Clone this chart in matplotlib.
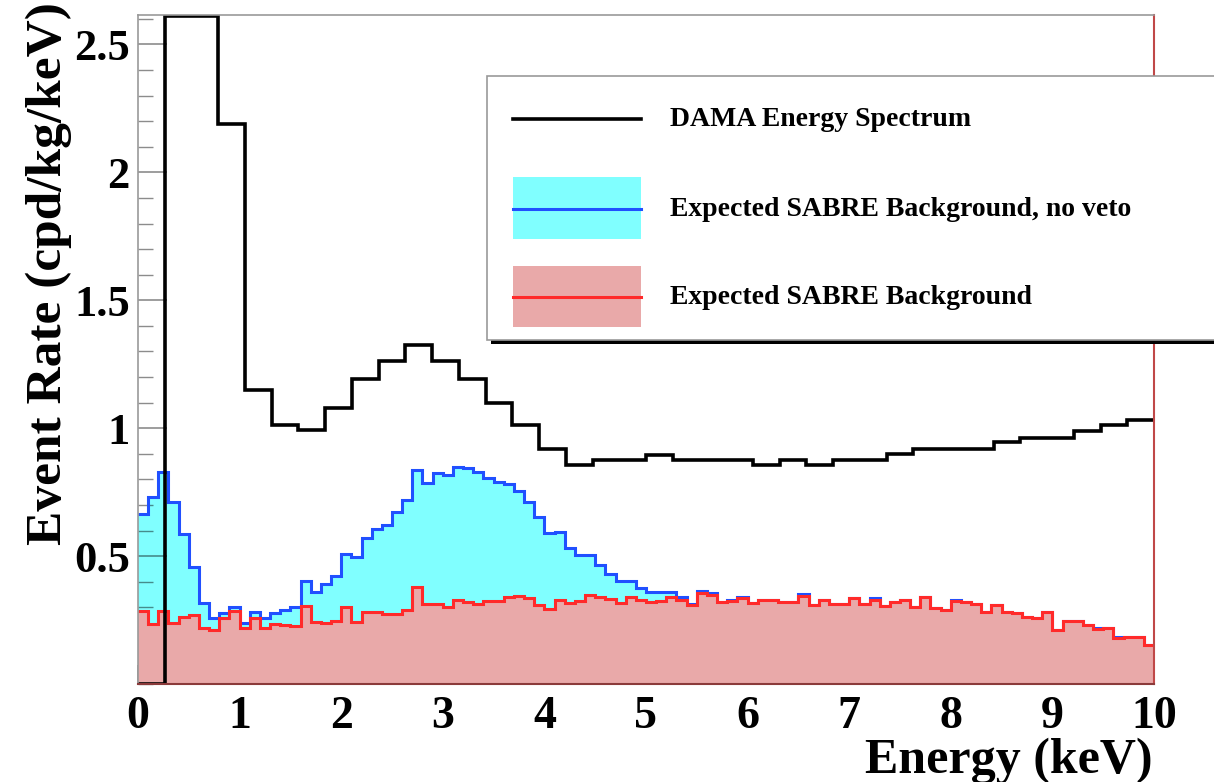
import matplotlib.pyplot as plt
import numpy as np
from matplotlib.lines import Line2D
from matplotlib.patches import Rectangle
from matplotlib.ticker import MultipleLocator

W, H = 1214, 782

# DAMA spectrum: 38 bins over 0-10 keV (bins 1-2 sit at the top of the frame)
dama_rate = [0, 2.61, 2.61, 2.19, 1.148, 1.012, 0.992, 1.079, 1.194, 1.262,
             1.327, 1.262, 1.191, 1.097, 1.013, 0.920, 0.857, 0.875, 0.875, 0.895,
             0.875, 0.875, 0.875, 0.855, 0.875, 0.855, 0.875, 0.875, 0.898, 0.920,
             0.920, 0.920, 0.944, 0.963, 0.963, 0.988, 1.012, 1.031]

# SABRE backgrounds: 100 bins of 0.1 keV
no_veto_rate = [0.664, 0.732, 0.829, 0.712, 0.586, 0.458, 0.318, 0.257, 0.279, 0.300,
                0.240, 0.283, 0.257, 0.279, 0.289, 0.302, 0.402, 0.358, 0.389, 0.423,
                0.507, 0.497, 0.569, 0.604, 0.621, 0.673, 0.719, 0.838, 0.784, 0.826,
                0.816, 0.849, 0.845, 0.827, 0.806, 0.790, 0.781, 0.754, 0.712, 0.651,
                0.591, 0.595, 0.532, 0.504, 0.504, 0.465, 0.430, 0.403, 0.403, 0.374,
                0.361, 0.361, 0.361, 0.341, 0.312, 0.362, 0.355, 0.322, 0.328, 0.341,
                0.315, 0.330, 0.330, 0.320, 0.320, 0.352, 0.310, 0.329, 0.312, 0.312,
                0.338, 0.313, 0.335, 0.305, 0.320, 0.329, 0.302, 0.341, 0.297, 0.289,
                0.328, 0.319, 0.312, 0.281, 0.307, 0.283, 0.276, 0.262, 0.259, 0.281,
                0.210, 0.247, 0.246, 0.229, 0.220, 0.218, 0.185, 0.183, 0.182, 0.152]

veto_rate = [0.286, 0.233, 0.286, 0.240, 0.263, 0.270, 0.217, 0.211, 0.259, 0.285,
             0.217, 0.259, 0.217, 0.234, 0.230, 0.227, 0.306, 0.243, 0.240, 0.247,
             0.300, 0.243, 0.283, 0.283, 0.273, 0.273, 0.289, 0.378, 0.311, 0.311,
             0.302, 0.328, 0.322, 0.313, 0.326, 0.326, 0.341, 0.344, 0.337, 0.308,
             0.292, 0.330, 0.315, 0.325, 0.349, 0.339, 0.331, 0.316, 0.339, 0.328,
             0.320, 0.325, 0.340, 0.328, 0.309, 0.356, 0.346, 0.320, 0.325, 0.338,
             0.315, 0.330, 0.330, 0.320, 0.320, 0.345, 0.310, 0.329, 0.312, 0.312,
             0.338, 0.313, 0.329, 0.305, 0.320, 0.329, 0.302, 0.341, 0.297, 0.289,
             0.323, 0.319, 0.312, 0.281, 0.307, 0.283, 0.276, 0.262, 0.259, 0.281,
             0.210, 0.247, 0.246, 0.229, 0.214, 0.218, 0.178, 0.183, 0.182, 0.152]

x_ticks = [0, 1, 2, 3, 4, 5, 6, 7, 8, 9, 10]
y_ticks = [0.5, 1, 1.5, 2, 2.5]
y_tick_labels = ["0.5", "1", "1.5", "2", "2.5"]
legend_labels = ["DAMA Energy Spectrum",
                 "Expected SABRE Background, no veto",
                 "Expected SABRE Background"]

CYAN = "#80ffff"
BLUE = "#2050ff"
PINK = "#e9a9a9"
RED = "#ff2a2a"
FONT = "Liberation Serif"

plt.rcParams["font.family"] = FONT
plt.rcParams["font.weight"] = "bold"


def fx(px):
    return px / W


def fy(py):
    return 1 - py / H


fig = plt.figure(figsize=(W / 100, H / 100), dpi=100)
ax = fig.add_axes([fx(138), fy(684), fx(1154) - fx(138), fy(15) - fy(684)])

edges_dama = np.linspace(0, 10, len(dama_rate) + 1)
edges_bg = np.linspace(0, 10, len(veto_rate) + 1)

# no veto
ax.stairs(no_veto_rate, edges_bg, baseline=0, fill=True, color=CYAN, lw=0, zorder=1)
ax.stairs(no_veto_rate, edges_bg, baseline=None, color=BLUE, lw=2.2, zorder=2)
# with veto
ax.stairs(veto_rate, edges_bg, baseline=0, fill=True, color=PINK, lw=0, zorder=3)
ax.stairs(veto_rate, edges_bg, baseline=None, color=RED, lw=2.2, zorder=4)
# DAMA
ax.stairs(dama_rate, edges_dama, baseline=None, color="black", lw=2.6, zorder=5)

ax.set_xlim(0, 10)
ax.set_ylim(0, 2.615)

# ROOT-like axes
ax.set_xticks(x_ticks)
ax.set_xticklabels([str(t) for t in x_ticks])
ax.xaxis.set_minor_locator(MultipleLocator(0.2))
ax.set_yticks(y_ticks)
ax.set_yticklabels(y_tick_labels)
ax.yaxis.set_minor_locator(MultipleLocator(0.1))
tick_col = (0, 0, 0, 0.45)
ax.tick_params(axis="x", which="major", direction="in", length=14, width=1.2,
               color=tick_col, labelsize=33, pad=9, top=False)
ax.tick_params(axis="x", which="minor", direction="in", length=6, width=1.0,
               color=tick_col, top=False)
ax.tick_params(axis="y", which="major", direction="in", length=21, width=1.2,
               color=tick_col, labelsize=32, pad=6, right=False)
ax.tick_params(axis="y", which="minor", direction="in", length=11, width=1.0,
               color=tick_col, right=False)
for lab in ax.get_xticklabels() + ax.get_yticklabels():
    lab.set_fontweight("bold")
    lab.set_zorder(10)
for side in ["top", "left"]:
    ax.spines[side].set_color("#999999")
    ax.spines[side].set_linewidth(1.2)
ax.spines["bottom"].set_color("#8b3a3a")
ax.spines["bottom"].set_linewidth(1.5)
ax.spines["right"].set_color("#c04848")
ax.spines["right"].set_linewidth(1.5)
for sp in ax.spines.values():
    sp.set_zorder(6)

fig.text(fx(1153), fy(773), "Energy (keV)", ha="right", va="baseline",
         fontsize=36, fontweight="bold")
fig.text(fx(49), fy(2), "Event Rate (cpd/kg/keV)", ha="center", va="top",
         rotation=90, fontsize=37, fontweight="bold")

# legend box (runs off the right edge like the original)
tf = fig.transFigure
fig.add_artist(Rectangle((fx(491), fy(344)), fx(1240) - fx(491), fy(80) - fy(344),
                         transform=tf, facecolor="black", edgecolor="none", zorder=20))
fig.add_artist(Rectangle((fx(487), fy(340)), fx(1240) - fx(487), fy(76) - fy(340),
                         transform=tf, facecolor="white", edgecolor="#999999",
                         lw=1.2, zorder=21))
fig.add_artist(Line2D([fx(513), fx(641)], [fy(119), fy(119)], transform=tf,
                      color="black", lw=2.6, zorder=22))
fig.add_artist(Rectangle((fx(513), fy(239)), fx(641) - fx(513), fy(177) - fy(239),
                         transform=tf, facecolor=CYAN, edgecolor="none", zorder=22))
fig.add_artist(Line2D([fx(513), fx(641)], [fy(209), fy(209)], transform=tf,
                      color=BLUE, lw=2.2, zorder=23))
fig.add_artist(Rectangle((fx(513), fy(327)), fx(641) - fx(513), fy(266) - fy(327),
                         transform=tf, facecolor=PINK, edgecolor="none", zorder=22))
fig.add_artist(Line2D([fx(513), fx(641)], [fy(297), fy(297)], transform=tf,
                      color=RED, lw=2.2, zorder=23))
for label, py in zip(legend_labels, [119, 209, 297]):
    fig.text(fx(670), fy(py), label, ha="left", va="center", fontsize=20,
             fontweight="bold", zorder=24)

fig.savefig("out.png", dpi=100)
